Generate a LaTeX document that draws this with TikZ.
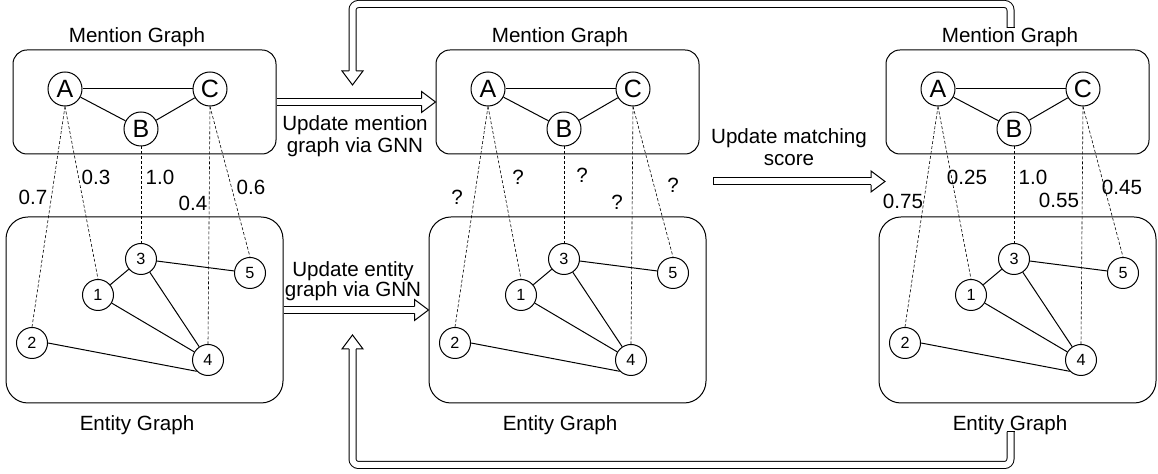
\documentclass[tikz,border=0pt]{standalone}
\usepackage{fontspec}
\setmainfont{Liberation Sans}

\begin{document}
\begin{tikzpicture}[x=0.5pt, y=-0.5pt,
  mnode/.style={circle, draw, line width=0.5pt, minimum size=17pt, inner sep=0pt, font=\fontsize{12.5}{14}\selectfont},
  enode/.style={circle, draw, line width=0.5pt, minimum size=15.5pt, inner sep=0pt, font=\fontsize{8.1}{9}\selectfont},
  mbox/.style={draw, line width=0.5pt, rounded corners=7pt, minimum width=131.5pt, minimum height=52pt},
  ebox/.style={draw, line width=0.5pt, rounded corners=11pt, minimum width=138.5pt, minimum height=93pt},
  link/.style={line width=0.5pt},
  match/.style={line width=0.3pt, dash pattern=on 1.5pt off 1pt},
  txt/.style={font=\fontsize{10.3}{11.3}\selectfont, align=center, inner sep=0pt},
  flow/.style={double, double distance=3pt, line width=0.5pt},
  pics/arrowhead/.style={code={\draw[fill=white, line width=0.5pt] (-7pt,1.75pt) -- (-7pt,5.25pt) -- (0,0) -- (-7pt,-5.25pt) -- (-7pt,-1.75pt);}}
]
\useasboundingbox (0,0) rectangle (1158,474);

% left: matching score before update
\node[txt] (mt1) at (137,37) {Mention Graph};
\node[mbox] (mb1) at (144.5,102) {};
\node[mnode] (mA1) at (65,89) {A};
\node[mnode] (mB1) at (141,129) {B};
\node[mnode] (mC1) at (210,89) {C};
\node[ebox] (eb1) at (144.5,310) {};
\node[enode] (e11) at (98,295) {1};
\node[enode] (e12) at (32,343) {2};
\node[enode] (e13) at (141,259) {3};
\node[enode] (e14) at (208,360) {4};
\node[enode] (e15) at (250,273) {5};
\node[txt] (et1) at (137,425) {Entity Graph};

\draw[link] (mA1) -- (mC1);
\draw[link] (mA1) -- (mB1);
\draw[link] (mB1) -- (mC1);
\draw[link] (e13) -- (e11);
\draw[link] (e13) -- (e15);
\draw[link] (e13) -- (e14);
\draw[link] (e11) -- (e14);
\draw[link] (e12.east) -- (e14.south west);

\draw[match] (mA1.south) -- (e12.north);
\draw[match] (mA1.south) -- (e11.north);
\draw[match] (mB1.south) -- (e13.north);
\draw[match] (mC1.south) -- (e14.north);
\draw[match] (mC1.south) -- (e15.north);

\node[txt] (s12) at (33,197) {0.7};
\node[txt] (s11) at (96,177) {0.3};
\node[txt] (s13) at (160,177) {1.0};
\node[txt] (s14) at (193,203) {0.4};
\node[txt] (s15) at (251,187) {0.6};

% middle: both graphs updated
\node[txt] (mt2) at (560,37) {Mention Graph};
\node[mbox] (mb2) at (567.5,102) {};
\node[mnode] (mA2) at (488,89) {A};
\node[mnode] (mB2) at (564,129) {B};
\node[mnode] (mC2) at (633,89) {C};
\node[ebox] (eb2) at (567.5,310) {};
\node[enode] (e21) at (521,295) {1};
\node[enode] (e22) at (455,343) {2};
\node[enode] (e23) at (564,259) {3};
\node[enode] (e24) at (631,360) {4};
\node[enode] (e25) at (673,273) {5};
\node[txt] (et2) at (560,425) {Entity Graph};

\draw[link] (mA2) -- (mC2);
\draw[link] (mA2) -- (mB2);
\draw[link] (mB2) -- (mC2);
\draw[link] (e23) -- (e21);
\draw[link] (e23) -- (e25);
\draw[link] (e23) -- (e24);
\draw[link] (e21) -- (e24);
\draw[link] (e22.east) -- (e24.south west);

\draw[match] (mA2.south) -- (e22.north);
\draw[match] (mA2.south) -- (e21.north);
\draw[match] (mB2.south) -- (e23.north);
\draw[match] (mC2.south) -- (e24.north);
\draw[match] (mC2.south) -- (e25.north);

\node[txt] (s22) at (457,197) {?};
\node[txt] (s21) at (518,177) {?};
\node[txt] (s23) at (582,175) {?};
\node[txt] (s24) at (617,202) {?};
\node[txt] (s25) at (673,185) {?};

% right: new matching score
\node[txt] (mt3) at (1010,37) {Mention Graph};
\node[mbox] (mb3) at (1017.5,102) {};
\node[mnode] (mA3) at (938,89) {A};
\node[mnode] (mB3) at (1014,129) {B};
\node[mnode] (mC3) at (1083,89) {C};
\node[ebox] (eb3) at (1017.5,310) {};
\node[enode] (e31) at (971,295) {1};
\node[enode] (e32) at (905,343) {2};
\node[enode] (e33) at (1014,259) {3};
\node[enode] (e34) at (1081,360) {4};
\node[enode] (e35) at (1123,273) {5};
\node[txt] (et3) at (1010,425) {Entity Graph};

\draw[link] (mA3) -- (mC3);
\draw[link] (mA3) -- (mB3);
\draw[link] (mB3) -- (mC3);
\draw[link] (e33) -- (e31);
\draw[link] (e33) -- (e35);
\draw[link] (e33) -- (e34);
\draw[link] (e31) -- (e34);
\draw[link] (e32.east) -- (e34.south west);

\draw[match] (mA3.south) -- (e32.north);
\draw[match] (mA3.south) -- (e31.north);
\draw[match] (mB3.south) -- (e33.north);
\draw[match] (mC3.south) -- (e34.north);
\draw[match] (mC3.south) -- (e35.north);

\node[txt] (s32) at (903,201) {0.75};
\node[txt] (s31) at (967,177) {0.25};
\node[txt] (s33) at (1033,177) {1.0};
\node[txt] (s34) at (1059,200) {0.55};
\node[txt] (s35) at (1122,187) {0.45};

% update arrows
\draw[flow] (mb1.east) -- ([xshift=-7pt]mb2.west);
\pic at (mb2.west) {arrowhead};
\node[txt] (lm) at (355,136) {Update mention\\graph via GNN};

\draw[flow] (eb1.east) -- ([xshift=-7pt]eb2.west);
\pic at (eb2.west) {arrowhead};
\node[txt, font=\fontsize{10.3}{10}\selectfont] (le) at (353,281.5) {Update entity\\graph via GNN};

\coordinate (sbeg) at (713,181.5);
\coordinate (send) at (885,181.5);
\draw[flow] (sbeg) -- ([xshift=-7pt]send);
\draw[link] ([yshift=2pt]sbeg) -- ([yshift=-2pt]sbeg);
\pic at (send) {arrowhead};
\node[txt] (ls) at (789,147) {Update matching\\score};

% feedback loops
\coordinate (tbeg) at (1010.5,28);
\coordinate (tend) at (352.5,85);
\draw[flow, rounded corners=3pt] (tbeg) -- ++(0,-24) -| ([yshift=7pt]tend);
\draw[link] ([xshift=-2pt]tbeg) -- ([xshift=2pt]tbeg);
\pic[rotate=-90] at (tend) {arrowhead};

\coordinate (bbeg) at (1010.5,432);
\coordinate (bend) at (352.5,335);
\draw[flow, rounded corners=3pt] (bbeg) -- ++(0,33) -| ([yshift=-7pt]bend);
\draw[link] ([xshift=-2pt]bbeg) -- ([xshift=2pt]bbeg);
\pic[rotate=90] at (bend) {arrowhead};
\end{tikzpicture}
\end{document}
